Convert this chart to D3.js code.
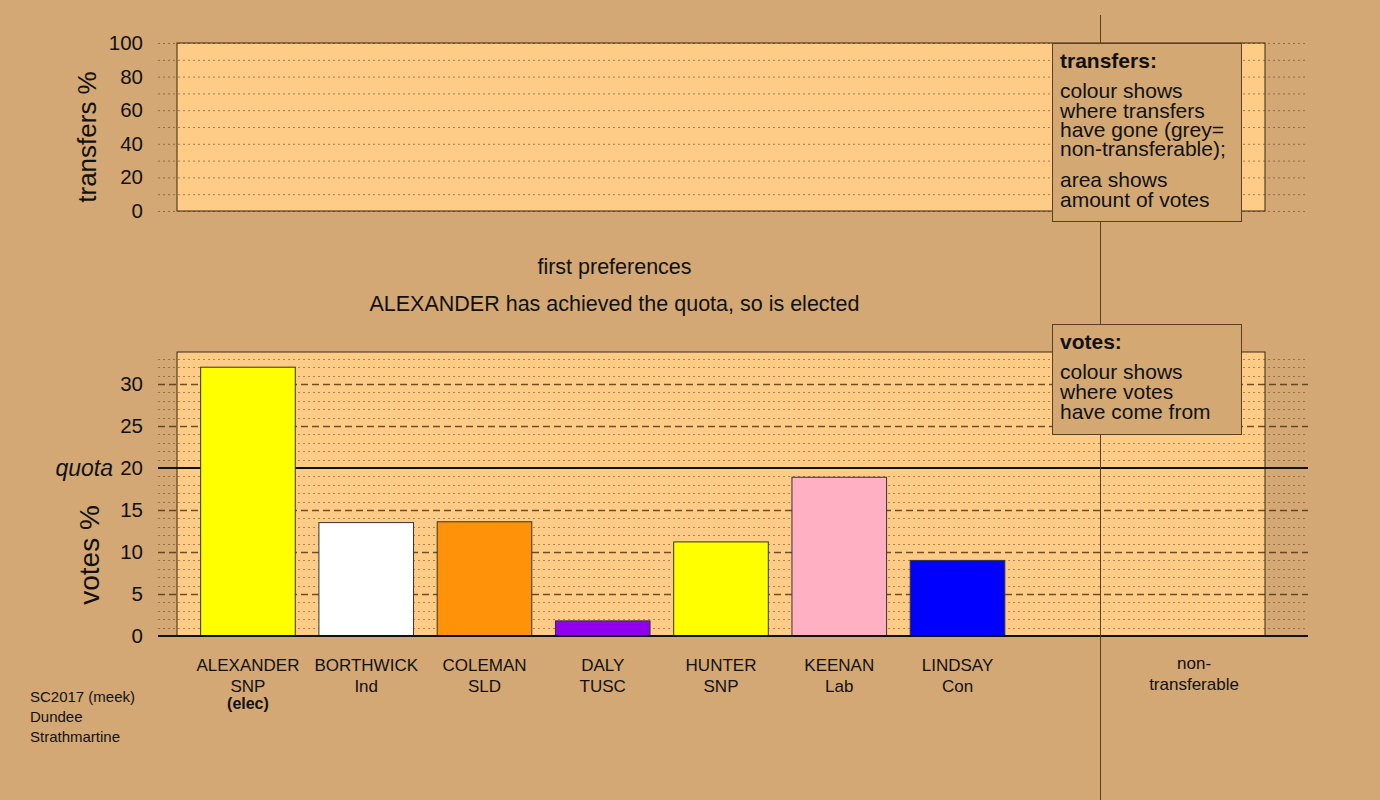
<!DOCTYPE html>
<html>
<head>
<meta charset="utf-8">
<script src="https://cdn.jsdelivr.net/npm/d3@7/dist/d3.min.js"></script>
<style>
  html, body { margin: 0; padding: 0; background: #D4A874; }
  svg { display: block; font-family: "Liberation Sans", Arial, Helvetica, sans-serif; }
</style>
</head>
<body>
<svg id="chart" width="1380" height="800"></svg>
<script>
// Dundee Strathmartine, SC2017 — first preferences
const candidates = ["ALEXANDER", "BORTHWICK", "COLEMAN", "DALY", "HUNTER", "KEENAN", "LINDSAY"];
const parties    = ["SNP", "Ind", "SLD", "TUSC", "SNP", "Lab", "Con"];
const votesPct   = [32.0, 13.5, 13.6, 1.8, 11.2, 18.9, 9.0];
const barColours = ["#FFFF00", "#FFFFFF", "#FF9208", "#9000EE", "#FFFF00", "#FFB0C2", "#0000FF"];
const elected    = ["ALEXANDER"];
const quotaPct   = 20;
const transferTicks = [0, 20, 40, 60, 80, 100];
const voteTicks     = [0, 5, 10, 15, 20, 25, 30];
const slots = candidates.concat(["", "NT"]);
const titleLines = ["first preferences", "ALEXANDER has achieved the quota, so is elected"];
const footer = ["SC2017 (meek)", "Dundee", "Strathmartine"];

const svg = d3.select("#chart");
const BG = "#D4A874", PANEL = "#FFCC88", INK = "#111", BROWN = "#5A4020";
const gridLeft = 158, gridRight = 1308;

svg.append("rect").attr("width", 1380).attr("height", 800).attr("fill", BG);

const x = d3.scaleBand().domain(slots).range([177, 1265]).paddingInner(0.2).paddingOuter(0.2);
const yT = d3.scaleLinear().domain([0, 100]).range([211, 43]);
const yV = d3.scaleLinear().domain([0, 20]).range([636, 468]);
const vTop = yV.invert(352);

// ---------- transfers panel ----------
const gT = svg.append("g");
gT.append("rect").attr("x", 177).attr("y", yT(100)).attr("width", 1265 - 177).attr("height", yT(0) - yT(100))
  .attr("fill", PANEL);
gT.selectAll("line.g").data(d3.range(0, 101, 10)).join("line")
  .attr("x1", gridLeft).attr("x2", gridRight).attr("y1", d => yT(d) + 0.5).attr("y2", d => yT(d) + 0.5)
  .attr("stroke", "rgba(90,60,20,0.55)").attr("stroke-width", 1).attr("stroke-dasharray", "2,3");
gT.append("rect").attr("x", 177).attr("y", yT(100)).attr("width", 1265 - 177).attr("height", yT(0) - yT(100))
  .attr("fill", "none").attr("stroke", "#3a2810").attr("stroke-width", 1);

const axT = d3.axisLeft(yT).tickValues(transferTicks).tickSize(0).tickPadding(0);
gT.append("g").attr("transform", "translate(143,0)").call(axT)
  .call(g => g.select(".domain").remove())
  .selectAll("text").attr("font-size", 20.5).attr("fill", INK).attr("font-family", "Liberation Sans, Arial, sans-serif");

svg.append("text").attr("transform", "translate(96,137) rotate(-90)").attr("text-anchor", "middle")
  .attr("font-size", 26).attr("fill", INK).text("transfers %");

// ---------- votes panel ----------
const gV = svg.append("g");
gV.append("rect").attr("x", 177).attr("y", 352).attr("width", 1265 - 177).attr("height", 636 - 352)
  .attr("fill", PANEL);
const fine = d3.range(1, Math.floor(vTop) + 1).filter(d => d % 5 !== 0);
gV.selectAll("line.f").data(fine).join("line")
  .attr("x1", gridLeft).attr("x2", gridRight).attr("y1", d => Math.round(yV(d)) + 0.5).attr("y2", d => Math.round(yV(d)) + 0.5)
  .attr("stroke", "rgba(90,60,20,0.5)").attr("stroke-width", 1).attr("stroke-dasharray", "2,3");
const coarse = d3.range(5, Math.floor(vTop) + 1, 5).filter(d => d !== quotaPct);
gV.selectAll("line.c").data(coarse).join("line")
  .attr("x1", gridLeft).attr("x2", gridRight).attr("y1", d => Math.round(yV(d)) + 0.5).attr("y2", d => Math.round(yV(d)) + 0.5)
  .attr("stroke", "rgba(75,45,10,0.8)").attr("stroke-width", 1.3).attr("stroke-dasharray", "7,4");
gV.append("rect").attr("x", 177).attr("y", 352).attr("width", 1265 - 177).attr("height", 636 - 352)
  .attr("fill", "none").attr("stroke", "#3a2810").attr("stroke-width", 1);

// quota line
gV.append("line").attr("x1", gridLeft).attr("x2", gridRight).attr("y1", yV(quotaPct)).attr("y2", yV(quotaPct))
  .attr("stroke", "#111").attr("stroke-width", 2);

// bars
gV.selectAll("rect.bar").data(candidates).join("rect")
  .attr("x", d => x(d)).attr("width", x.bandwidth())
  .attr("y", (d, i) => yV(votesPct[i])).attr("height", (d, i) => yV(0) - yV(votesPct[i]))
  .attr("fill", (d, i) => barColours[i]).attr("stroke", "#333").attr("stroke-width", 1);

// zero line
gV.append("line").attr("x1", gridLeft).attr("x2", gridRight).attr("y1", yV(0)).attr("y2", yV(0))
  .attr("stroke", "#111").attr("stroke-width", 2);

const axV = d3.axisLeft(yV).tickValues(voteTicks).tickSize(0).tickPadding(0);
gV.append("g").attr("transform", "translate(143,0)").call(axV)
  .call(g => g.select(".domain").remove())
  .selectAll("text").attr("font-size", 20.5).attr("fill", INK).attr("font-family", "Liberation Sans, Arial, sans-serif");

svg.append("text").attr("x", 113).attr("y", yV(quotaPct) + 8).attr("text-anchor", "end")
  .attr("font-size", 23).attr("font-style", "italic").attr("fill", INK).text("quota");

svg.append("text").attr("transform", "translate(99,555) rotate(-90)").attr("text-anchor", "middle")
  .attr("font-size", 28).attr("fill", INK).text("votes %");

// separator between candidates and non-transferable
svg.append("line").attr("x1", 1100.5).attr("x2", 1100.5).attr("y1", 15).attr("y2", 800)
  .attr("stroke", BROWN).attr("stroke-width", 1);

// category labels
const cat = svg.append("g").attr("font-size", 17).attr("fill", INK).attr("text-anchor", "middle");
candidates.forEach((c, i) => {
  const cx = x(c) + x.bandwidth() / 2;
  cat.append("text").attr("x", cx).attr("y", 671).text(c);
  cat.append("text").attr("x", cx).attr("y", 692).text(parties[i]);
  if (elected.includes(c)) {
    cat.append("text").attr("x", cx).attr("y", 709).attr("font-weight", "bold").attr("font-size", 16).text("(elec)");
  }
});
const ntx = x("NT") + x.bandwidth() / 2;
cat.append("text").attr("x", ntx).attr("y", 669).attr("font-size", 17).text("non-");
cat.append("text").attr("x", ntx).attr("y", 690).attr("font-size", 17).text("transferable");

// titles
const titleX = (177 + 1052) / 2;
svg.append("text").attr("x", titleX).attr("y", 274).attr("text-anchor", "middle").attr("font-size", 21.5).attr("fill", INK).text(titleLines[0]);
svg.append("text").attr("x", titleX).attr("y", 311).attr("text-anchor", "middle").attr("font-size", 21.5).attr("fill", INK).text(titleLines[1]);

// legend boxes
function legendBox(x0, y0, w, h, heading, lines) {
  const g = svg.append("g");
  g.append("rect").attr("x", x0 + 0.5).attr("y", y0 + 0.5).attr("width", w).attr("height", h)
    .attr("fill", "#D3A873").attr("stroke", BROWN).attr("stroke-width", 1);
  g.append("text").attr("x", x0 + 8).attr("y", y0 + 25).attr("font-size", 21).attr("font-weight", "bold").attr("fill", INK).text(heading);
  lines.forEach(l => {
    g.append("text").attr("x", x0 + 8).attr("y", y0 + l[0]).attr("font-size", 21).attr("fill", INK).text(l[1]);
  });
}
legendBox(1052, 43, 189, 178, "transfers:", [
  [55, "colour shows"], [75, "where transfers"], [94, "have gone (grey="], [113, "non-transferable);"],
  [144, "area shows"], [164, "amount of votes"]
]);
legendBox(1052, 324, 189, 110, "votes:", [
  [55, "colour shows"], [75, "where votes"], [95, "have come from"]
]);

// footer
footer.forEach((t, i) => {
  svg.append("text").attr("x", 30).attr("y", 702 + i * 20).attr("font-size", 15).attr("fill", INK).text(t);
});
</script>
</body>
</html>
